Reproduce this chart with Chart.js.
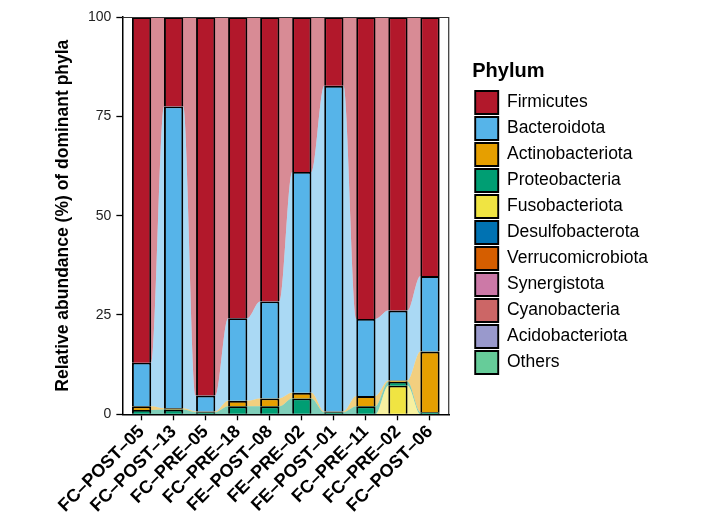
<!DOCTYPE html>
<html>
<head>
<meta charset="utf-8">
<script src="https://cdn.jsdelivr.net/npm/chart.js@4.4.1/dist/chart.umd.min.js"></script>
<style>
    body { margin: 0; background: #fff; }
    #wrap { width: 706px; height: 529px; }
</style>
</head>
<body>
<div id="wrap"><canvas id="phylumChart"></canvas></div>
<script>
// samples on the x-axis
const samples = ['FC–POST–05', 'FC–POST–13', 'FC–PRE–05', 'FC–PRE–18', 'FE–POST–08',
                 'FE–PRE–02', 'FE–POST–01', 'FC–PRE–11', 'FC–PRE–02', 'FC–POST–06'];

// phyla in legend order (top of the stack first)
const phyla = ['Firmicutes', 'Bacteroidota', 'Actinobacteriota', 'Proteobacteria', 'Fusobacteriota',
               'Desulfobacterota', 'Verrucomicrobiota', 'Synergistota', 'Cyanobacteria',
               'Acidobacteriota', 'Others'];
const phylaColors = ['#B2182B', '#56B4E9', '#E69F00', '#009E73', '#F0E442',
                     '#0072B2', '#D55E00', '#CC79A7', '#CC6666', '#9999CC', '#66CC99'];

// relative abundance (%) per sample
const firmicutes        = [87.0, 22.5, 95.3, 75.8, 71.6, 39.0, 17.3, 76.0, 73.9, 65.2];
const bacteroidota      = [11.0, 76.0,  4.0, 20.8, 24.4, 55.6, 82.0, 19.4, 17.6, 19.0];
const actinobacteriota  = [ 0.9,  0.3,  0.2,  1.4,  2.0,  1.4,  0.2,  2.6,  0.3, 15.3];
const proteobacteria    = [ 1.1,  1.2,  0.5,  2.0,  2.0,  4.0,  0.5,  2.0,  1.0,  0.5];
const fusobacteriota    = [ 0,    0,    0,    0,    0,    0,    0,    0,    7.2,  0  ];
const desulfobacterota  = [ 0,    0,    0,    0,    0,    0,    0,    0,    0,    0  ];
const verrucomicrobiota = [ 0,    0,    0,    0,    0,    0,    0,    0,    0,    0  ];
const synergistota      = [ 0,    0,    0,    0,    0,    0,    0,    0,    0,    0  ];
const cyanobacteria     = [ 0,    0,    0,    0,    0,    0,    0,    0,    0,    0  ];
const acidobacteriota   = [ 0,    0,    0,    0,    0,    0,    0,    0,    0,    0  ];
const others            = [ 0,    0,    0,    0,    0,    0,    0,    0,    0,    0  ];

const yTicks = [0, 25, 50, 75, 100];

const phylaValues = [firmicutes, bacteroidota, actinobacteriota, proteobacteria, fusobacteriota,
                     desulfobacterota, verrucomicrobiota, synergistota, cyanobacteria,
                     acidobacteriota, others];

const BAR_FRACTION = 0.6;             // bar width as share of one category
const halfBar = BAR_FRACTION / 2;     // in x-axis units

function alpha(hex, a) {
    const n = parseInt(hex.slice(1), 16);
    return `rgba(${n >> 16}, ${(n >> 8) & 255}, ${n & 255}, ${a})`;
}

// cumulative bounds, stacking from the bottom (Others) upwards
const lower = [], upper = [];
let running = samples.map(() => 0);
for (let k = phyla.length - 1; k >= 0; k--) {
    lower[k] = running.slice();
    running = running.map((r, i) => r + phylaValues[k][i]);
    upper[k] = running.slice();
}

// alluvial flows: filled lines through the bar edges, bottom layer first
const flowDatasets = [];
for (let k = phyla.length - 1; k >= 0; k--) {
    const pts = [];
    samples.forEach((s, i) => {
        pts.push({x: i + 1 - halfBar, y: upper[k][i]});
        pts.push({x: i + 1 + halfBar, y: upper[k][i]});
    });
    flowDatasets.push({
        type: 'line',
        label: '_flow_' + phyla[k],
        data: pts,
        borderWidth: 0,
        pointRadius: 0,
        cubicInterpolationMode: 'monotone',
        backgroundColor: alpha(phylaColors[k], 0.5),
        fill: flowDatasets.length === 0 ? 'origin' : '-1',
        order: 10
    });
}

// strata: one floating bar per phylum and sample
const barDatasets = phyla.map((name, k) => ({
    type: 'bar',
    label: name,
    data: samples.map((s, i) => ({x: i + 1, y: phylaValues[k][i] > 0 ? [lower[k][i], upper[k][i]] : null})),
    backgroundColor: phylaColors[k],
    borderColor: '#000',
    borderWidth: 1.9,
    borderSkipped: 'start',            // shared edges get one line, not two
    grouped: false,
    barPercentage: BAR_FRACTION,
    categoryPercentage: 1,
    order: 0
}));

const panelBorder = {
    id: 'panelBorder',
    afterDraw(chart) {
        const {ctx, chartArea: a} = chart;
        ctx.save();
        ctx.strokeStyle = '#333';
        ctx.lineWidth = 1.2;
        ctx.beginPath();
        ctx.moveTo(a.left, a.top + 0.5);
        ctx.lineTo(a.right - 0.5, a.top + 0.5);
        ctx.lineTo(a.right - 0.5, a.bottom);
        ctx.stroke();
        ctx.restore();
    }
};

const fontFamily = '"Liberation Sans", Arial, sans-serif';

new Chart(document.getElementById('phylumChart'), {
    type: 'bar',
    data: {datasets: [...flowDatasets, ...barDatasets]},
    options: {
        responsive: true,
        maintainAspectRatio: false,
        animation: false,
        layout: {padding: {top: 17, right: 48, bottom: 11.5, left: 53}},
        scales: {
            x: {
                type: 'linear',
                min: 0.4,
                max: 10.6,
                offset: false,
                afterBuildTicks: s => { s.ticks = samples.map((n, i) => ({value: i + 1})); },
                ticks: {
                    callback: v => samples[v - 1],
                    autoSkip: false,
                    maxRotation: 45,
                    minRotation: 45,
                    color: '#000',
                    padding: 1,
                    font: {family: fontFamily, size: 18, weight: 'bold'}
                },
                grid: {drawOnChartArea: false, offset: false, color: '#000', tickLength: 6, tickWidth: 1.3},
                border: {color: '#000', width: 1.5}
            },
            y: {
                min: 0,
                max: 100,
                afterBuildTicks: s => { s.ticks = yTicks.map(v => ({value: v})); },
                ticks: {
                    color: '#222',
                    padding: 5,
                    font: {family: fontFamily, size: 14}
                },
                grid: {drawOnChartArea: false, color: '#000', tickLength: 6, tickWidth: 1.3},
                border: {color: '#000', width: 1.5},
                title: {
                    display: true,
                    text: 'Relative abundance (%) of dominant phyla',
                    color: '#000',
                    font: {family: fontFamily, size: 17.5, weight: 'bold'},
                    padding: {top: 0, bottom: 9}
                }
            },
            gap: {                         // empty right-hand axis: space between panel and legend
                position: 'right',
                display: true,
                ticks: {display: false},
                grid: {display: false},
                border: {display: false},
                afterFit: s => { s.width = 23; }
            }
        },
        plugins: {
            legend: {
                position: 'right',
                align: 'start',
                maxWidth: 260,
                title: {
                    display: true,
                    text: 'Phylum',
                    position: 'start',
                    color: '#000',
                    font: {family: fontFamily, size: 20, weight: 'bold'},
                    padding: {top: 44, bottom: 3}
                },
                labels: {
                    filter: item => !item.text.startsWith('_flow_'),
                    boxWidth: 23,
                    boxHeight: 23,
                    padding: 3,
                    color: '#000',
                    font: {family: fontFamily, size: 17.5}
                }
            },
            tooltip: {enabled: false}
        }
    },
    plugins: [panelBorder]
});
</script>
</body>
</html>
